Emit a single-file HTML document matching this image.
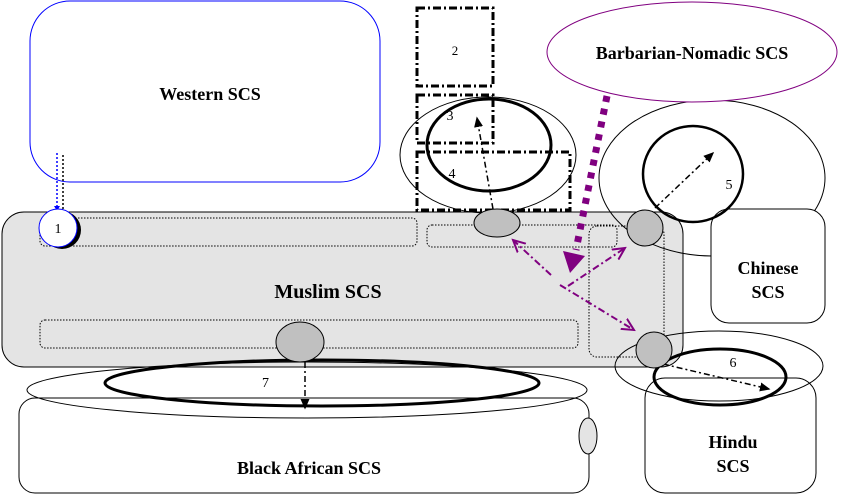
<!DOCTYPE html>
<html><head><meta charset="utf-8"><style>html,body{margin:0;padding:0;background:#fff}svg{display:block}text{font-family:"Liberation Serif",serif;font-weight:bold}</style></head>
<body>
<svg width="845" height="495" viewBox="0 0 845 495" xmlns="http://www.w3.org/2000/svg">
<defs>
<marker id="ab" markerWidth="8" markerHeight="8" refX="6" refY="4" orient="auto"><path d="M0,1 L7,4 L0,7 z" fill="#000"/></marker>
<marker id="pa" markerWidth="14" markerHeight="14" refX="12" refY="7" orient="auto" markerUnits="userSpaceOnUse"><path d="M0,1 L12,7 L0,13" fill="none" stroke="#800080" stroke-width="2"/></marker>
</defs>
<!-- Western -->
<rect x="30" y="1" width="350" height="181" rx="40" fill="#fff" stroke="#0000ff" stroke-width="1"/>
<text x="210" y="100" font-size="18" text-anchor="middle">Western SCS</text>
<!-- Muslim -->
<rect x="2" y="212" width="681" height="155" rx="22" fill="#e4e4e4" stroke="#000"/>
<rect x="40" y="218" width="377" height="28" rx="5" fill="none" stroke="#000" stroke-dasharray="1.5,1.5"/>
<rect x="427" y="225" width="190" height="22" rx="5" fill="none" stroke="#000" stroke-dasharray="1.5,1.5"/>
<rect x="589" y="226" width="75" height="131" rx="8" fill="none" stroke="#000" stroke-dasharray="1.5,1.5"/>
<rect x="40" y="320" width="538" height="28" rx="5" fill="none" stroke="#000" stroke-dasharray="1.5,1.5"/>
<text x="328" y="298" font-size="20" text-anchor="middle">Muslim SCS</text>
<!-- Black African -->
<rect x="19" y="398" width="570" height="95" rx="16" fill="#fff" stroke="#000"/>
<ellipse cx="307" cy="390" rx="280" ry="28" fill="none" stroke="#000"/>
<ellipse cx="322" cy="383" rx="217" ry="23" fill="none" stroke="#000" stroke-width="3"/>
<ellipse cx="588" cy="436" rx="9" ry="18" fill="#e4e4e4" stroke="#000"/>
<text x="309" y="474" font-size="18" text-anchor="middle">Black African SCS</text>
<text x="262" y="387" font-size="14" style="font-weight:normal">7</text>
<ellipse cx="300" cy="342" rx="24" ry="20" fill="#c0c0c0" stroke="#000"/>
<line x1="305" y1="362" x2="305" y2="408" stroke="#000" stroke-width="1.5" stroke-dasharray="6,3,2,3" marker-end="url(#ab)"/>
<!-- 1 -->
<line x1="57" y1="153" x2="57" y2="210" stroke="#0000ff" stroke-width="1.5" stroke-dasharray="2,2"/>
<line x1="63" y1="155" x2="63" y2="210" stroke="#000" stroke-width="1.5" stroke-dasharray="2,2"/>
<path d="M54,206 L60,206 L57,211z" fill="#0000ff"/>
<circle cx="62" cy="230" r="19" fill="#000"/>
<circle cx="58" cy="228" r="19" fill="#fff" stroke="#0000ff"/>
<text x="58" y="233" font-size="14" text-anchor="middle" style="font-weight:normal">1</text>
<!-- 2,3,4 -->
<rect x="417" y="8" width="76" height="78" fill="none" stroke="#000" stroke-width="3" stroke-dasharray="8,3,2,3"/>
<text x="455" y="55" font-size="13" text-anchor="middle" style="font-weight:normal">2</text>
<ellipse cx="488" cy="155" rx="88" ry="58" fill="none" stroke="#000"/>
<rect x="417" y="95" width="76" height="48" fill="none" stroke="#000" stroke-width="3" stroke-dasharray="8,3,2,3"/>
<rect x="417" y="152" width="153" height="58" fill="none" stroke="#000" stroke-width="3" stroke-dasharray="8,3,2,3"/>
<ellipse cx="489" cy="145" rx="62" ry="46" fill="none" stroke="#000" stroke-width="3"/>
<text x="450" y="120" font-size="14" text-anchor="middle" style="font-weight:normal">3</text>
<text x="452" y="178" font-size="14" text-anchor="middle" style="font-weight:normal">4</text>
<line x1="493" y1="209" x2="477" y2="118" stroke="#000" stroke-width="1.5" stroke-dasharray="6,3,2,3" marker-end="url(#ab)"/>
<ellipse cx="497" cy="223" rx="23" ry="14" fill="#c0c0c0" stroke="#000"/>
<!-- Chinese -->
<ellipse cx="712" cy="178" rx="113" ry="78" fill="none" stroke="#000"/>
<rect x="711" y="209" width="114" height="114" rx="18" fill="#fff" stroke="#000"/>
<ellipse cx="693" cy="174" rx="50" ry="48" fill="none" stroke="#000" stroke-width="2.5"/>
<line x1="655" y1="208" x2="713" y2="153" stroke="#000" stroke-width="1.5" stroke-dasharray="6,3,2,3" marker-end="url(#ab)"/>
<text x="729" y="189" font-size="14" text-anchor="middle" style="font-weight:normal">5</text>
<text x="768" y="274" font-size="18" text-anchor="middle">Chinese</text>
<text x="768" y="298" font-size="18" text-anchor="middle">SCS</text>
<circle cx="645" cy="228" r="18" fill="#c0c0c0" stroke="#000"/>
<!-- Hindu -->
<rect x="645" y="378" width="171" height="115" rx="20" fill="#fff" stroke="#000"/>
<ellipse cx="719" cy="366" rx="104" ry="35" fill="none" stroke="#000"/>
<ellipse cx="720" cy="377" rx="66" ry="28" fill="none" stroke="#000" stroke-width="3"/>
<line x1="663" y1="364" x2="769" y2="389" stroke="#000" stroke-width="1.5" stroke-dasharray="6,3,2,3" marker-end="url(#ab)"/>
<text x="733" y="367" font-size="14" text-anchor="middle" style="font-weight:normal">6</text>
<text x="733" y="448" font-size="18" text-anchor="middle">Hindu</text>
<text x="733" y="472" font-size="18" text-anchor="middle">SCS</text>
<circle cx="654" cy="350" r="18" fill="#c0c0c0" stroke="#000"/>
<!-- Barbarian -->
<ellipse cx="692" cy="52" rx="145" ry="50" fill="#fff" stroke="#800080"/>
<text x="692" y="59" font-size="18" text-anchor="middle">Barbarian-Nomadic SCS</text>
<line x1="607" y1="96" x2="576" y2="250" stroke="#800080" stroke-width="7" stroke-dasharray="6,7"/>
<path d="M563,251 L585,256 L570,273z" fill="#800080"/>
<line x1="551" y1="275" x2="513" y2="240" stroke="#800080" stroke-width="2" stroke-dasharray="7,3,2,3" marker-end="url(#pa)"/>
<line x1="568" y1="286" x2="625" y2="248" stroke="#800080" stroke-width="2" stroke-dasharray="7,3,2,3" marker-end="url(#pa)"/>
<line x1="560" y1="285" x2="634" y2="330" stroke="#800080" stroke-width="2" stroke-dasharray="7,3,2,3" marker-end="url(#pa)"/>
</svg>
</body></html>
